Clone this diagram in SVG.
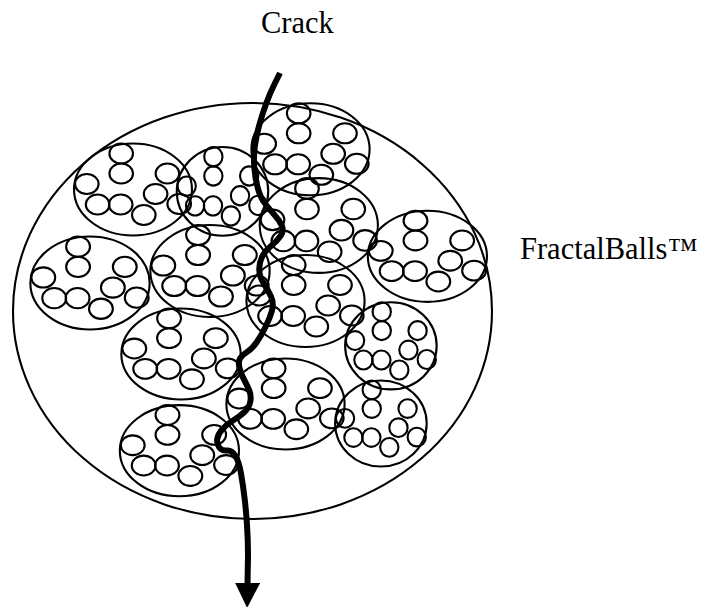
<svg xmlns="http://www.w3.org/2000/svg" xmlns:xlink="http://www.w3.org/1999/xlink" width="708" height="607" viewBox="0 0 708 607">
<style>
.o{fill:none;stroke:#000;stroke-width:2.1;vector-effect:non-scaling-stroke}
.crack{fill:none;stroke:#000;stroke-width:6;stroke-linecap:butt;stroke-linejoin:round}
.lbl{font-family:"Liberation Serif","Times New Roman",serif;font-size:30.5px;fill:#000}
</style>
<defs>
<g id="fb">
<ellipse class="o" cx="0" cy="0" rx="60" ry="46"/>
<ellipse class="o" cx="-12" cy="-36" rx="12" ry="10"/>
<ellipse class="o" cx="-12" cy="-16" rx="12" ry="10"/>
<ellipse class="o" cx="-47" cy="-5.5" rx="12" ry="10"/>
<ellipse class="o" cx="-36" cy="15" rx="12" ry="10"/>
<ellipse class="o" cx="-12.5" cy="15" rx="12" ry="10"/>
<ellipse class="o" cx="11" cy="25.5" rx="12" ry="10"/>
<ellipse class="o" cx="35" cy="-16" rx="12" ry="10"/>
<ellipse class="o" cx="23" cy="4.5" rx="12" ry="10"/>
<ellipse class="o" cx="47" cy="14.5" rx="12" ry="10"/>
</g>
<marker id="arr" markerUnits="userSpaceOnUse" markerWidth="25" markerHeight="25" viewBox="0 0 24 24" refX="2" refY="12" orient="auto">
<path d="M0,0 L24,12 L0,24 z" fill="#000"/>
</marker>
</defs>
<rect width="708" height="607" fill="#fff"/>
<g id="outer">
<ellipse class="o" cx="252.5" cy="311" rx="239.5" ry="208"/>
</g>
<g id="cluster-A" transform="translate(133,189.5) scale(0.983,1)"><use href="#fb"/></g>
<g id="cluster-B" transform="translate(222.5,191.4) scale(0.762,0.964)"><use href="#fb"/></g>
<g id="cluster-C" transform="translate(310.5,149.3) scale(0.985,1)"><use href="#fb"/></g>
<g id="cluster-D" transform="translate(318.8,225.5) scale(0.985,1.03)"><use href="#fb"/></g>
<g id="cluster-E" transform="translate(427.4,256.3) scale(0.993,0.99)"><use href="#fb"/></g>
<g id="cluster-F" transform="translate(90,283) scale(0.994,1.01)"><use href="#fb"/></g>
<g id="cluster-G" transform="translate(210,271) scale(0.994,1)"><use href="#fb"/></g>
<g id="cluster-H" transform="translate(305.5,301) scale(0.985,1)"><use href="#fb"/></g>
<g id="cluster-I" transform="translate(390.9,345.8) scale(0.763,0.948)"><use href="#fb"/></g>
<g id="cluster-J" transform="translate(181,354) scale(0.994,0.99)"><use href="#fb"/></g>
<g id="cluster-K" transform="translate(285.5,404) scale(0.985,0.99)"><use href="#fb"/></g>
<g id="cluster-L" transform="translate(380.9,423.5) scale(0.763,0.935)"><use href="#fb"/></g>
<g id="cluster-M" transform="translate(179.4,450.7) scale(0.993,0.99)"><use href="#fb"/></g>
<g id="connectors">
<path class="crack" marker-end="url(#arr)" d="M280,73 L275,83 Q270,93 266,104 Q262,115 259,126 Q256,137 254.75,147 Q253.5,157 254.25,167 Q255,177 257.5,187 Q260,197 265,203.5 Q270,210 275,215.5 Q280,221 282,226 Q284,231 280.5,236 Q277,241 271,246 Q265,251 262,257 Q259,263 259.25,270 Q259.5,277 263.75,283.5 Q268,290 271,296.5 Q274,303 272,310.5 Q270,318 265.5,327 Q261,336 256.5,342.5 Q252,349 247,352 Q242,355 240,358.5 Q238,362 239.5,368 Q241,374 244,379.5 Q247,385 249.25,390.5 Q251.5,396 250.25,402 Q249,408 244,412.5 Q239,417 233,420.5 Q227,424 222.5,429 Q218,434 217.25,439 Q216.5,444 219.25,447.5 Q222,451 227,450.5 Q232,450 235.5,456 Q239,462 241,473.5 Q243,485 244.5,497.5 Q246,510 247,525 Q248,540 248,555 L247.5,585"/>
</g>
<g id="label-crack"><text class="lbl" x="261" y="33">Crack</text></g>
<g id="label-fractalballs"><text class="lbl" x="520" y="259">FractalBalls™</text></g>
</svg>
